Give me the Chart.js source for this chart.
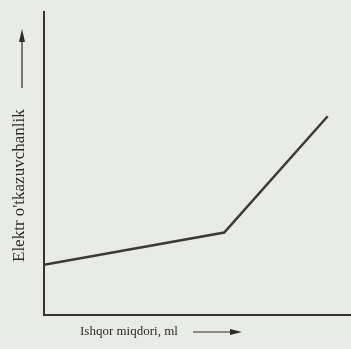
<!DOCTYPE html>
<html>
<head>
<meta charset="utf-8">
<script src="https://cdn.jsdelivr.net/npm/chart.js@4/dist/chart.umd.min.js"></script>
<style>
  html, body { margin: 0; padding: 0; background: #e9ebe7; }
  #wrap { width: 351px; height: 349px; }
</style>
</head>
<body>
<div id="wrap"><canvas id="c"></canvas></div>
<script>
// ishqor miqdori (ml) va elektr o'tkazuvchanlik qiymatlari
const alkaliVolume = [0, 58.7, 92.4];
const conductivity = [16.6, 27.2, 65.6];

const xTitle = "Ishqor miqdori, ml";
const yTitle = "Elektr o'tkazuvchanlik";

// fon va o'q nomlari (strelkalar bilan)
const decorPlugin = {
    id: 'decor',
    beforeDraw(chart) {
        const ctx = chart.ctx;
        ctx.save();
        ctx.fillStyle = '#e9ebe7';
        ctx.fillRect(0, 0, chart.width, chart.height);
        ctx.restore();
    },
    afterDraw(chart) {
        const ctx = chart.ctx;
        ctx.save();
        ctx.fillStyle = '#2b2b2b';
        ctx.strokeStyle = '#2b2b2b';
        ctx.font = '13px "Liberation Serif", "DejaVu Serif", serif';
        ctx.textBaseline = 'middle';

        // x o'qi nomi
        ctx.textAlign = 'left';
        ctx.fillText(xTitle, 80, 332);
        ctx.lineWidth = 1.2;
        ctx.beginPath();
        ctx.moveTo(193, 332);
        ctx.lineTo(236, 332);
        ctx.stroke();
        ctx.beginPath();
        ctx.moveTo(242, 332);
        ctx.lineTo(230, 329);
        ctx.lineTo(230, 335);
        ctx.closePath();
        ctx.fill();

        // y o'qi nomi (vertikal)
        ctx.translate(20, 262);
        ctx.rotate(-Math.PI / 2);
        ctx.font = '17px "Liberation Serif", "DejaVu Serif", serif';
        ctx.fillText(yTitle, 0, 0);
        ctx.beginPath();
        ctx.moveTo(174, 2);
        ctx.lineTo(226, 2);
        ctx.stroke();
        ctx.beginPath();
        ctx.moveTo(233, 2);
        ctx.lineTo(220, -1);
        ctx.lineTo(220, 5);
        ctx.closePath();
        ctx.fill();
        ctx.restore();
    }
};

new Chart(document.getElementById('c'), {
    type: 'line',
    data: {
        datasets: [{
            data: alkaliVolume.map((v, i) => ({ x: v, y: conductivity[i] })),
            borderColor: '#3a3a3a',
            borderWidth: 2.5,
            pointRadius: 0,
            tension: 0,
            fill: false
        }]
    },
    options: {
        responsive: true,
        maintainAspectRatio: false,
        animation: false,
        layout: { padding: { left: 36, top: 12, right: 0, bottom: 26 } },
        plugins: {
            legend: { display: false },
            tooltip: { enabled: false }
        },
        scales: {
            x: {
                type: 'linear',
                min: 0,
                max: 100,
                ticks: { display: false },
                grid: { display: false },
                border: { display: true, color: '#333', width: 2 }
            },
            y: {
                min: 0,
                max: 100,
                ticks: { display: false },
                grid: { display: false },
                border: { display: true, color: '#333', width: 2 }
            }
        }
    },
    plugins: [decorPlugin]
});
</script>
</body>
</html>
